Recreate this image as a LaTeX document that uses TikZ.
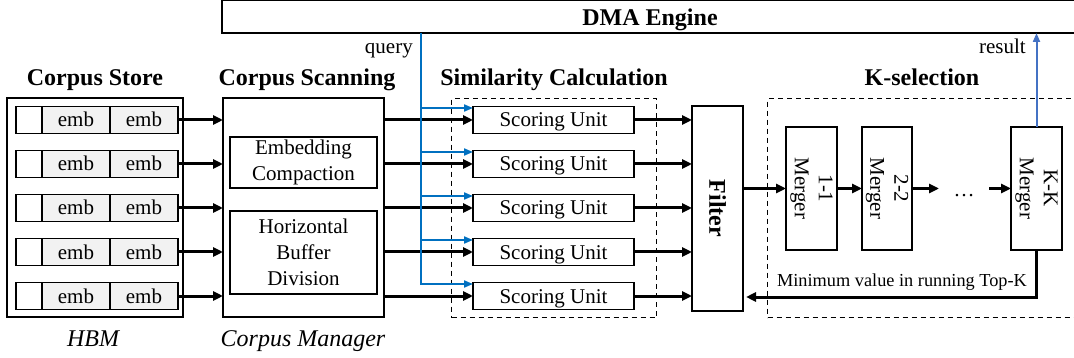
\documentclass[tikz,border=0pt]{standalone}
\usepackage{fontspec}
\setmainfont{Liberation Serif}
\usetikzlibrary{arrows.meta,calc}
\definecolor{qblue}{HTML}{0070C0}
\definecolor{rblue}{HTML}{4472C4}
\definecolor{embgray}{HTML}{F2F2F2}
\begin{document}
\begin{tikzpicture}[x=1pt,y=-1pt,
  box/.style={draw, line width=1.3pt, inner sep=0pt, outer sep=0pt},
  cell/.style={box, minimum height=27pt, text height=14pt, text depth=0pt, font=\fontsize{21}{26}\selectfont},
  dashbox/.style={draw, line width=1.3pt, dash pattern=on 5pt off 4pt},
  thk/.style={line width=3pt, -{Triangle[length=10pt,width=9pt]}},
  qline/.style={draw=qblue, line width=2pt},
  qarrow/.style={qline, -{Triangle[length=9pt,width=7pt]}},
  hdr/.style={font=\fontsize{24}{28}\selectfont\bfseries, anchor=base, inner sep=0pt},
  reg/.style={font=\fontsize{21}{26}\selectfont, align=center, inner sep=0pt},
  itl/.style={font=\fontsize{24}{28}\selectfont\itshape, anchor=base, inner sep=0pt},
  mlabel/.style={font=\fontsize{21}{24}\selectfont, align=center, rotate=-90, inner sep=0pt}
]
\useasboundingbox (0,0) rectangle (1074,358);

% DMA engine
\node[box, minimum width=870pt, minimum height=33pt, anchor=north west] (dma) at (222,0) {};
\node[hdr] (dmat) at (650,26) {DMA Engine};

% headers
\node[hdr] (h1) at (95,86) {Corpus Store};
\node[hdr] (h2) at (307,86) {Corpus Scanning};
\node[hdr] (h3) at (554,86) {Similarity Calculation};
\node[hdr] (h4) at (922,86) {K-selection};

% corpus store
\node[box, minimum width=176pt, minimum height=219pt, anchor=north west] (store) at (7,98) {};
% corpus scanning
\node[box, minimum width=161pt, minimum height=219pt, anchor=north west] (scan) at (223,98) {};
\node[box, reg, minimum width=147pt, minimum height=51pt] (embc) at (303.5,162.5) {Embedding\\Compaction};
\node[box, reg, minimum width=147pt, minimum height=83pt] (hbd) at (303.5,252.5) {Horizontal\\Buffer\\Division};

% similarity dashed box
\node[dashbox, minimum width=205pt, minimum height=219pt, anchor=north west, inner sep=0pt] (sim) at (451,98) {};
% k-selection dashed box
\node[dashbox, minimum width=330pt, minimum height=219pt, anchor=north west, inner sep=0pt] (ksel) at (767,98) {};

% filter
\node[box, minimum width=51pt, minimum height=205pt] (filter) at (717.5,208.5) {};
\node[font=\fontsize{24}{28}\selectfont\bfseries, rotate=-90, inner sep=0pt] (filtert) at (filter.center) {Filter};

% query line top
\coordinate (qx) at (421,33);

\foreach \i/\y in {1/120,2/164,3/208,4/252,5/296}{
  \node[cell, fill=white, minimum width=26pt] (b\i) at (29,\y) {};
  \node[cell, fill=embgray, minimum width=68pt] (e\i) at (76,\y) {emb};
  \node[cell, fill=embgray, minimum width=68pt] (f\i) at (144,\y) {emb};
  \node[cell, fill=white, minimum width=161pt] (s\i) at (553.5,\y) {Scoring Unit};
  \draw[thk] (f\i.east) -- (f\i.east -| scan.west);
  \draw[thk] (s\i.west -| scan.east) -- (s\i.west);
  \draw[thk] (s\i.east) -- (s\i.east -| filter.west);
  \coordinate (q\i) at ($(s\i.north west)+(0,1.5)$);
}
\foreach \i in {1,2,3,4}{
  \draw[qarrow] (q\i -| qx) -- (q\i);
}
\draw[qarrow] (qx) -- (q5 -| qx) -- (q5);
\node[font=\fontsize{21}{24}\selectfont, anchor=base east, inner sep=0pt] (qt) at (413,54) {query};

% mergers
\node[box, minimum width=51pt, minimum height=123pt] (m1) at (811.5,188.5) {};
\node[box, minimum width=50pt, minimum height=123pt] (m2) at (887,188.5) {};
\node[box, minimum width=51pt, minimum height=123pt] (mk) at (1036.5,188.5) {};
\node[mlabel] (m1t) at (m1.center) {1-1\\Merger};
\node[mlabel] (m2t) at (m2.center) {2-2\\Merger};
\node[mlabel] (mkt) at (mk.center) {K-K\\Merger};
\coordinate (da) at (939,188.5);
\coordinate (db) at (989,188.5);
\node[font=\fontsize{21}{26}\selectfont, anchor=base, inner sep=0pt] (dots) at (964,197) {\dots};

\draw[thk] (m1.west -| filter.east) -- (m1.west);
\draw[thk] (m1.east) -- (m2.west);
\draw[thk] (m2.east) -- (da);
\draw[thk] (db) -- (mk.west);

% feedback
\draw[line width=3pt, -{Triangle[length=10pt,width=9pt]}] (mk.south) |- ([xshift=3pt,yshift=14pt]filter.south east);
\node[font=\fontsize{18.3}{22}\selectfont, anchor=base, inner sep=0pt] (fbt) at (902,287) {Minimum value in running Top-K};

% result
\draw[draw=rblue, line width=2pt, -{Triangle[length=9pt,width=7pt]}] (mk.north) -- (mk.north |- dma.south);
\node[font=\fontsize{21}{24}\selectfont, anchor=base east, inner sep=0pt] (rt) at (1026,54) {result};

% footers
\node[itl] (hbm) at (93,346) {HBM};
\node[itl] (cm) at (303,346) {Corpus Manager};
\end{tikzpicture}
\end{document}
